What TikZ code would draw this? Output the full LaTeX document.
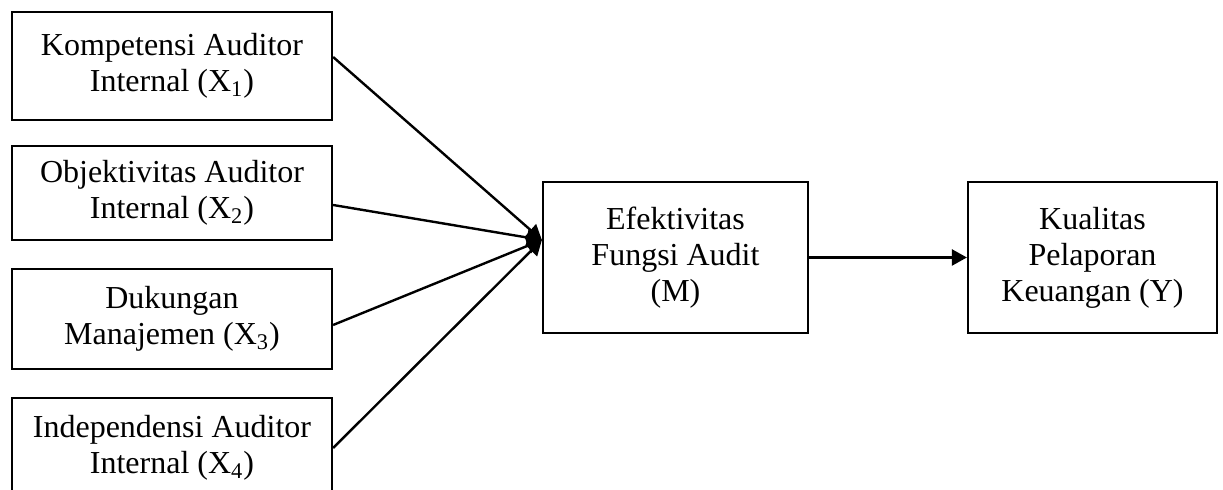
\documentclass[tikz,border=0pt]{standalone}
\usepackage{fontspec}
\setmainfont{Liberation Serif}
\usepackage{tikz}
\usetikzlibrary{arrows.meta, calc}

\begin{document}
\begin{tikzpicture}[x=0.5pt, y=-0.5pt,
                box/.style={
                  draw, line width=1.1pt, align=center, inner sep=0pt,
                  font=\fontsize{16}{18}\selectfont
                },
                link/.style={line width=1.2pt, -{Triangle[length=7.5pt,width=8pt]}}
              ]
              \useasboundingbox (0,0) rectangle (1223,490);
              % independent variables
              \node [box, minimum width=160pt, minimum height=54pt] at (172, 66) (x1) {Kompetensi Auditor\\Internal (X\textsubscript{1})};
              \node [box, minimum width=160pt, minimum height=47pt] at (172, 193) (x2) {Objektivitas Auditor\\Internal (X\textsubscript{2})};
              \node [box, minimum width=160pt, minimum height=50pt] at (172, 319) (x3) {Dukungan\\Manajemen (X\textsubscript{3})};
              \node [box, minimum width=160pt, minimum height=50pt] at (172, 448) (x4) {Independensi Auditor\\Internal (X\textsubscript{4})};
              % mediator and outcome
              \node [box, minimum width=132.5pt, minimum height=75.5pt] at (675.5, 257.5) (m) {Efektivitas\\Fungsi Audit\\(M)};
              \node [box, minimum width=124.5pt, minimum height=75.5pt] at (1092.5, 257.5) (y) {Kualitas\\Pelaporan\\Keuangan (Y)};
              \coordinate (min) at ($(m.west)+(0,-17.5)$);
              \draw [link] ($(x1.east)+(0,-9)$) -- (min);
              \draw [link] ($(x2.east)+(0,12)$) -- (min);
              \draw [link] ($(x3.east)+(0,6)$) -- (min);
              \draw [link] (x4.east) -- (min);
              \draw [link] (m) -- (y);
            \end{tikzpicture}
\end{document}
